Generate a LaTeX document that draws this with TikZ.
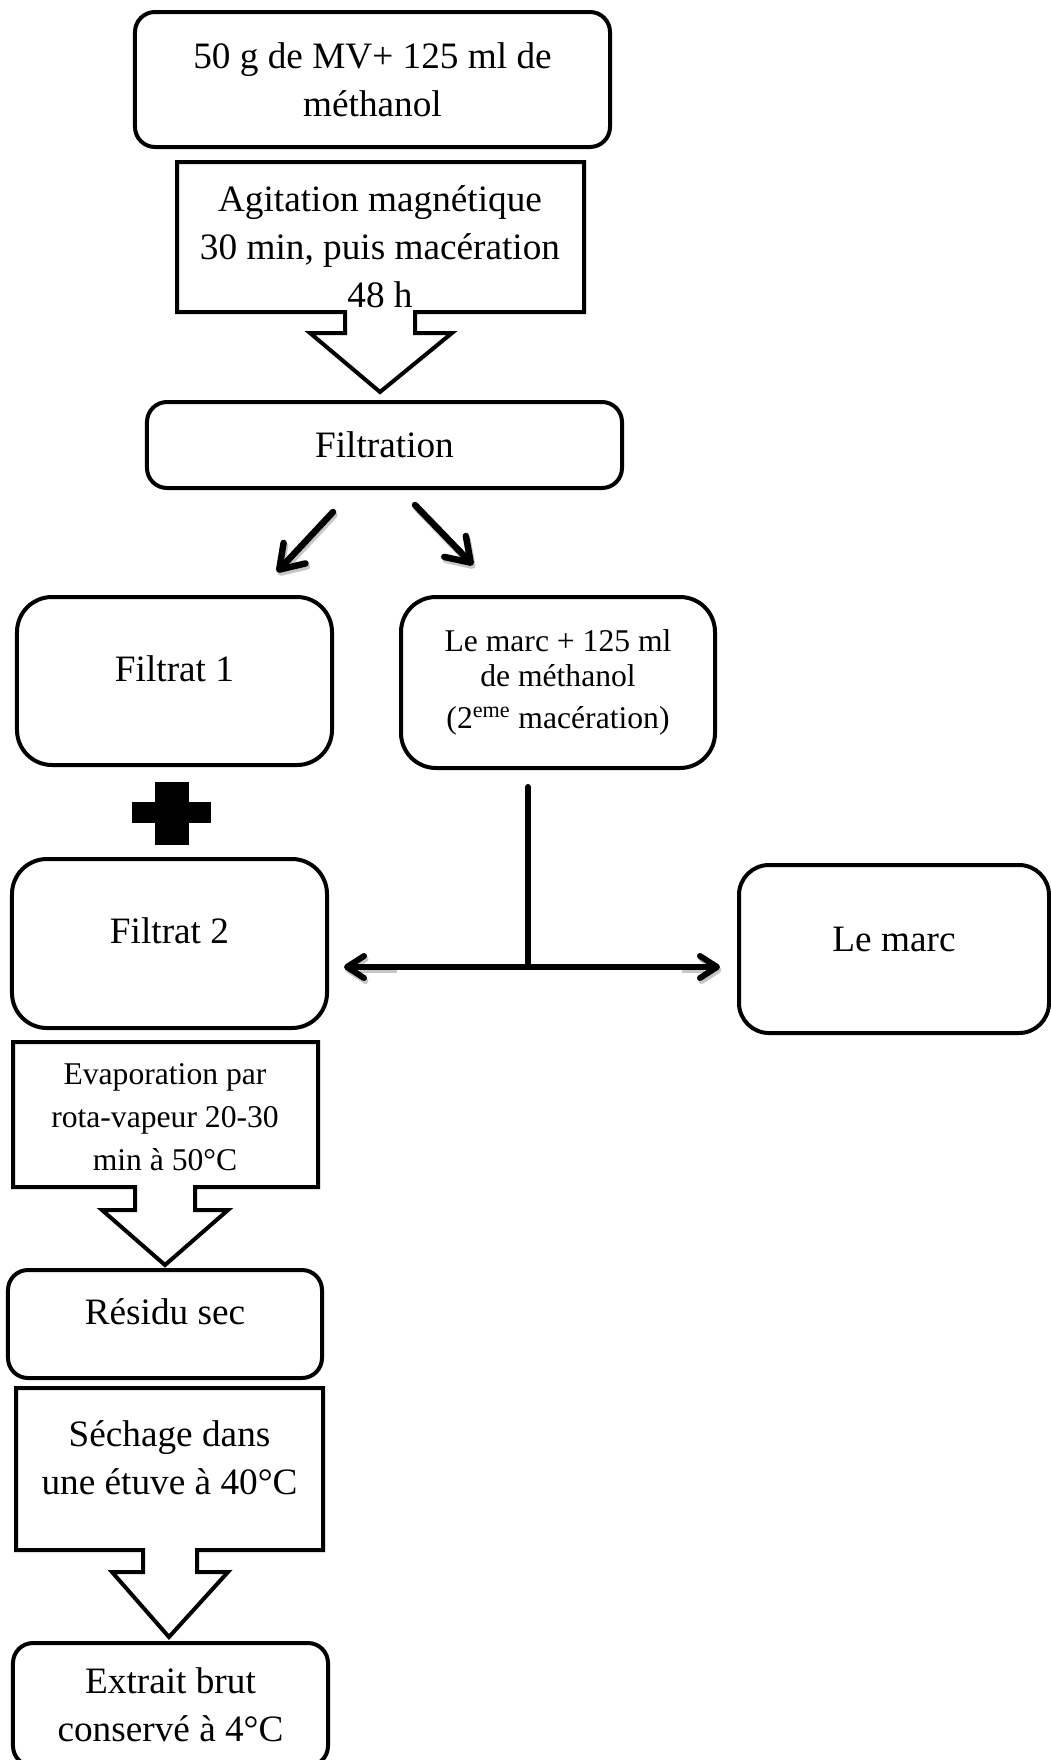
\documentclass[tikz,border=0pt]{standalone}
\usepackage{fontspec}
\setmainfont{Liberation Serif}
\usetikzlibrary{arrows.meta}
\usetikzlibrary{calc}

\begin{document}
\begin{tikzpicture}[x=0.2mm,y=-0.2mm,
  boite/.style={draw,line width=0.8mm,rounded corners=4mm,inner sep=0pt,align=center,
    font=\fontsize{21.2}{27.3}\selectfont},
  grandcoin/.style={rounded corners=7mm},
  decale/.style={text height=4mm,text depth=4mm},
  bloc/.style={draw,line width=0.8mm,line join=miter},
  txt/.style={align=center,inner sep=0pt,font=\fontsize{21.2}{27.3}\selectfont},
  petit/.style={font=\fontsize{18}{24.5}\selectfont},
  fleche/.style={line width=1.3mm,line cap=round,
    -{Straight Barb[length=4.5mm,width=6mm,line cap=round,line join=round]}},
  fleche2/.style={line width=1.2mm,
    -{Straight Barb[length=3.4mm,width=4.4mm,line cap=round,line join=round]}},
  ombre/.style={draw=black!22,transform canvas={shift={(0.3mm,-0.6mm)}}}]
  \useasboundingbox (0,0) rectangle (1051,1760);

  \node[boite,minimum width=95mm,minimum height=27mm] (depart) at (372.5,79.5) {50 g de MV+ 125 ml de\\m\'ethanol};
  \draw[bloc] (177,162) -- (584,162) -- (584,312) -- (415,312) -- (415,333) -- (452,333) -- (380,392)
    -- (310,333) -- (345,333) -- (345,312) -- (177,312) -- cycle;
  \node[txt] (agitation) at (380,247) {Agitation magn\'etique\\30 min, puis mac\'eration\\48 h};

  \node[boite,minimum width=95mm,minimum height=17.2mm] (filtration) at (384.5,445) {Filtration};
  \coordinate (g0) at (333,512);
  \coordinate (g1) at (277,572);
  \coordinate (d0) at (415,505);
  \coordinate (d1) at (473,565);
  \draw[fleche,ombre] (g0) -- (g1);
  \draw[fleche,ombre] (d0) -- (d1);
  \draw[fleche] (g0) -- (g1);
  \draw[fleche] (d0) -- (d1);

  \node[boite,grandcoin,decale,minimum width=63mm,minimum height=33.6mm] (filtrat1) at (174.5,681) {Filtrat 1};
  \node[boite,grandcoin,minimum width=62.8mm,minimum height=34.2mm,font=\fontsize{18}{20}\selectfont] (marc2) at (558,682.5)
    {Le marc + 125 ml\\de m\'ethanol\\[4pt](2\textsuperscript{eme} mac\'eration)};

  \path[fill=black] (155,782) rectangle (189,845);
  \path[fill=black] (132,802) rectangle (211,823);

  \node[boite,grandcoin,decale,minimum width=63mm,minimum height=33.8mm] (filtrat2) at (169.5,943.5) {Filtrat 2};
  \node[boite,rounded corners=6mm,text height=4.5mm,text depth=3.5mm,minimum width=62mm,minimum height=33.6mm] (lemarc) at (894,949) {Le marc};

  \coordinate (tige) at (528,787);
  \coordinate (jonction) at (528,967);
  \draw[line width=1.2mm,line cap=round] (tige) -- (jonction);
  \draw[fleche2,ombre,shorten >=3mm] (395,967) -- (filtrat2.east |- jonction);
  \draw[fleche2,ombre,shorten >=3.4mm] (680,967) -- (lemarc.west |- jonction);
  \draw[fleche2,shorten >=3mm] (jonction) -- (filtrat2.east |- jonction);
  \draw[fleche2,shorten >=3.4mm] (jonction) -- (lemarc.west |- jonction);

  \draw[bloc] (13,1042) -- (318,1042) -- (318,1187) -- (195,1187) -- (195,1210) -- (228,1210) -- (165,1265)
    -- (102,1210) -- (135,1210) -- (135,1187) -- (13,1187) -- cycle;
  \node[txt,petit] (evaporation) at (165,1117.5) {Evaporation par\\rota-vapeur 20-30\\min \`a 50\textdegree C};

  \node[boite,decale,minimum width=62.8mm,minimum height=21.6mm] (residu) at (165,1324) {R\'esidu sec};

  \draw[bloc] (16,1388) -- (323,1388) -- (323,1550) -- (197,1550) -- (197,1572) -- (228,1572) -- (169,1637)
    -- (112,1572) -- (143,1572) -- (143,1550) -- (16,1550) -- cycle;
  \node[txt] (sechage) at (169.5,1457.5) {S\'echage dans\\une \'etuve \`a 40\textdegree C};

  \node[boite,minimum width=63mm,minimum height=24.6mm,font=\fontsize{21.2}{27.3}\selectfont] (extrait) at (170.5,1704.5)
    {Extrait brut\\conserv\'e \`a 4\textdegree C};
\end{tikzpicture}
\end{document}
